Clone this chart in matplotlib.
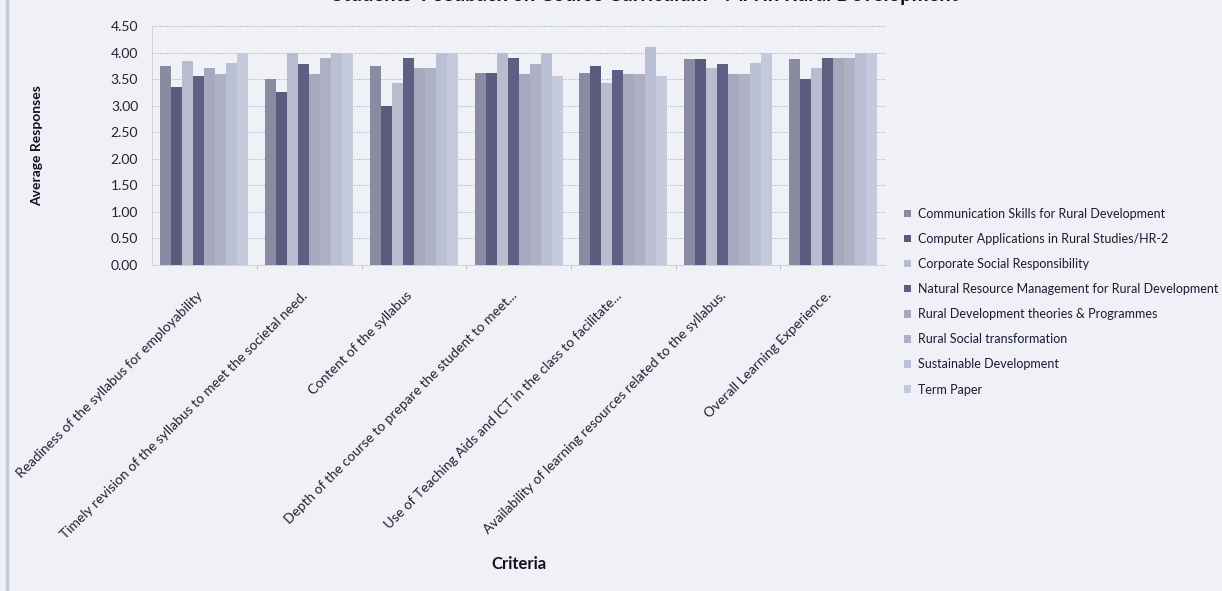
import matplotlib
matplotlib.use("Agg")
import matplotlib.pyplot as plt
import matplotlib.transforms as mtransforms
import numpy as np

plt.rcParams['font.family'] = ['Lato', 'DejaVu Sans']

categories = [
    "Readiness of the syllabus for employability",
    "Timely revision of the syllabus to meet the societal need.",
    "Content of the syllabus",
    "Depth of the course to prepare the student to meet...",
    "Use of Teaching Aids and ICT in the class to facilitate...",
    "Availability of learning resources related to the syllabus.",
    "Overall Learning Experience.",
]

series_names = [
    "Communication Skills for Rural Development",
    "Computer Applications in Rural Studies/HR-2",
    "Corporate Social Responsibility",
    "Natural Resource Management for Rural Development",
    "Rural Development theories & Programmes",
    "Rural Social transformation",
    "Sustainable Development",
    "Term Paper",
]

comm_skills      = [3.75, 3.50, 3.75, 3.62, 3.62, 3.88, 3.88]
computer_apps    = [3.36, 3.25, 3.00, 3.62, 3.75, 3.88, 3.50]
csr              = [3.85, 4.00, 3.43, 4.00, 3.43, 3.70, 3.70]
nrm              = [3.55, 3.78, 3.89, 3.89, 3.67, 3.78, 3.90]
rd_theories      = [3.70, 3.60, 3.70, 3.60, 3.60, 3.60, 3.90]
rural_social     = [3.60, 3.90, 3.70, 3.78, 3.60, 3.60, 3.90]
sustainable_dev  = [3.80, 4.00, 4.00, 4.00, 4.10, 3.80, 4.00]
term_paper       = [4.00, 4.00, 4.00, 3.55, 3.55, 4.00, 4.00]

series_values = [comm_skills, computer_apps, csr, nrm, rd_theories,
                 rural_social, sustainable_dev, term_paper]

colors = ["#8a8aa3", "#5b5b7e", "#b8bcce", "#5e5f82",
          "#a7a7bd", "#b0b0c4", "#b9bfd4", "#c4c9db"]

y_ticks = [0.0, 0.5, 1.0, 1.5, 2.0, 2.5, 3.0, 3.5, 4.0, 4.5]

bg = "#eff1f6"
fig = plt.figure(figsize=(12.22, 5.91), dpi=100, facecolor=bg)
ax = fig.add_axes([0.1244, 0.5516, 0.6, 0.4044], facecolor=bg)

n = len(series_names)
bw = 0.105
x = np.arange(len(categories))
for i, (name, vals, c) in enumerate(zip(series_names, series_values, colors)):
    ax.bar(x + (i - (n - 1) / 2) * bw, vals, width=bw, color=c,
           label=name, zorder=3, linewidth=0)

ax.set_xlim(-0.5, len(categories) - 0.5)
ax.set_ylim(0, 4.5)
ax.set_yticks(y_ticks)
ax.set_yticklabels([f"{v:.2f}" for v in y_ticks], fontsize=10, color="#222233")
ax.yaxis.grid(True, linestyle=(0, (1, 1.5)), color="#9fa6bd", linewidth=0.7, zorder=0)
ax.tick_params(axis='y', length=0, pad=10)

ax.set_xticks(x)
ax.set_xticklabels(categories, rotation=45, ha='right', rotation_mode='anchor',
                   fontsize=9.9, color="#222233")
ax.tick_params(axis='x', length=0, pad=16)
offset = mtransforms.ScaledTranslation(-8 / 100, -2 / 100, fig.dpi_scale_trans)
for lbl in ax.get_xticklabels():
    lbl.set_transform(lbl.get_transform() + offset)
ax.set_xticks(np.arange(len(categories) - 1) + 0.5, minor=True)
ax.tick_params(axis='x', which='minor', length=3, color="#b0b4c4")

for s in ['top', 'right']:
    ax.spines[s].set_visible(False)
ax.spines['left'].set_color("#c8ccd8")
ax.spines['bottom'].set_color("#c8ccd8")
ax.spines['left'].set_linewidth(0.6)
ax.spines['bottom'].set_linewidth(0.6)

ax.set_ylabel("Average Responses", fontsize=10, fontweight='bold', color="#111122")
ax.yaxis.set_label_coords(-0.148, 0.5)
fig.text(0.425, 0.045, "Criteria", fontsize=12, fontweight='bold', color="#111122",
         ha='center', va='center')

fig.text(0.528, 1 - 1 / 591, "Students' Feedback on Course Curriculum - MA in Rural Development",
         fontsize=14.5, fontweight='bold', color="#111122", ha='center', va='baseline')

leg = fig.legend(loc='upper left', bbox_to_anchor=(0.736, 0.657), frameon=False,
                 fontsize=9, labelspacing=1.05, handlelength=0.55, handleheight=0.55,
                 handletextpad=0.5, borderaxespad=0)
for t in leg.get_texts():
    t.set_color("#1a1a33")

fig.patches.append(plt.Rectangle((0.005, 0.0), 0.0015, 1.0, transform=fig.transFigure,
                                 color="#c6cad6", zorder=0))

fig.savefig("out.png", dpi=100, facecolor=bg)
